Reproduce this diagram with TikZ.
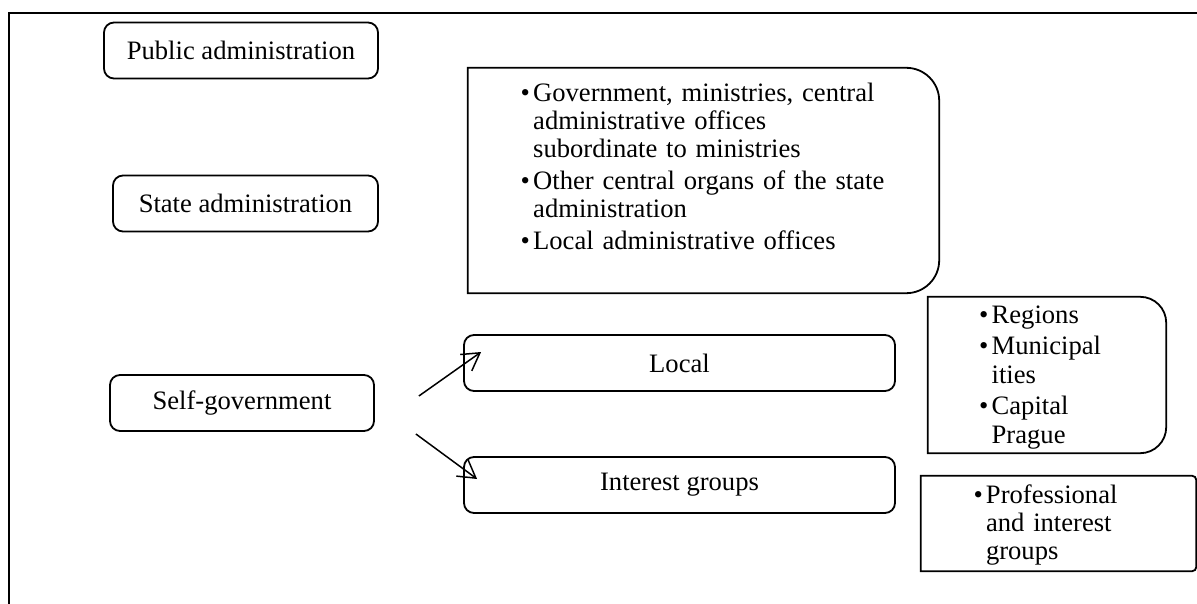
\documentclass[tikz,border=0pt]{standalone}
\usepackage{fontspec}
\setmainfont{Liberation Serif}
\usepackage{tikz}
\usetikzlibrary{arrows.meta}

\newcommand{\bulletitem}[1]{\noindent\hangindent=12.5pt\hangafter=1\makebox[12.5pt][l]{\textbullet}#1\par}
\newcommand{\rightroundbox}[2]{\draw[line width = 1.8pt] (#1.north) -- (#1.north west) -- (#1.south west) -- (#1.south) [rounded corners = #2] -- (#1.south east) -- (#1.north east) -- cycle;}

\begin{document}
\begin{tikzpicture}[
	x = 1pt, y = -1pt,
	every node/.style = {font = \fontsize{26.6pt}{28pt}\selectfont},
	box/.style = {draw, rounded corners = 10pt, line width = 1.8pt, minimum height = 56pt, inner sep = 0pt},
	area/.style = {minimum width = #1, inner sep = 0pt},
	itemlist/.style = {anchor = base west, inner sep = 0pt, text width = #1, execute at begin node = \setlength{\parskip}{4pt}},
	arrow/.style = {-{Straight Barb[length = 17pt, width = 20pt]}, line width = 1.5pt}
	]
	\useasboundingbox (0,0) rectangle (1197,604);
	\draw[line width = 1.8pt] (9,604) -- (9,13) -- (1197,13);
	% left column
	\node[box, minimum width = 274pt] (public) at (241,50.5) {Public administration};
	\node[box, minimum width = 265pt] (state) at (245.5,203.5) {State administration};
	\node[box, minimum width = 264pt] (self) at (242,403) {Self-government};
	% middle column
	\node[box, minimum width = 431pt] (local) at (679.5,363) {Local};
	\node[box, minimum width = 431pt] (interest) at (679.5,485) {Interest groups};
	\node[area = 471pt, minimum height = 225pt] (organs) at (703.5,180.5) {};
	\rightroundbox{organs}{33pt}
	\node[itemlist = 380pt] (organslist) at (520.5,101.5) {%
		\bulletitem{Government, ministries, central\newline administrative offices\newline subordinate to ministries}%
		\bulletitem{Other central organs of the state\newline administration}%
		\bulletitem{Local administrative offices}};
	% right column
	\node[area = 238pt, minimum height = 156pt] (units) at (1047,375) {};
	\rightroundbox{units}{26pt}
	\node[itemlist = 160pt] (unitslist) at (979,323) {%
		\bulletitem{Regions}%
		\bulletitem{Municipal\newline ities}%
		\bulletitem{Capital\newline Prague}};
	\node[area = 275pt, minimum height = 95pt] (groups) at (1058.5,523.5) {};
	\rightroundbox{groups}{4pt}
	\node[itemlist = 200pt] (groupslist) at (973.3,503) {%
		\bulletitem{Professional\newline and interest\newline groups}};
	% arrows
	\coordinate (selfup) at ([xshift = 44pt, yshift = 7pt] self.east);
	\coordinate (selfdown) at ([xshift = 41pt, yshift = -31pt] self.east);
	\coordinate (localin) at ([xshift = 18pt, yshift = 11pt] local.west);
	\coordinate (interestin) at ([xshift = 14pt, yshift = 6pt] interest.west);
	\draw[arrow] (selfup) -- (localin);
	\draw[arrow] (selfdown) -- (interestin);
\end{tikzpicture}
\end{document}
